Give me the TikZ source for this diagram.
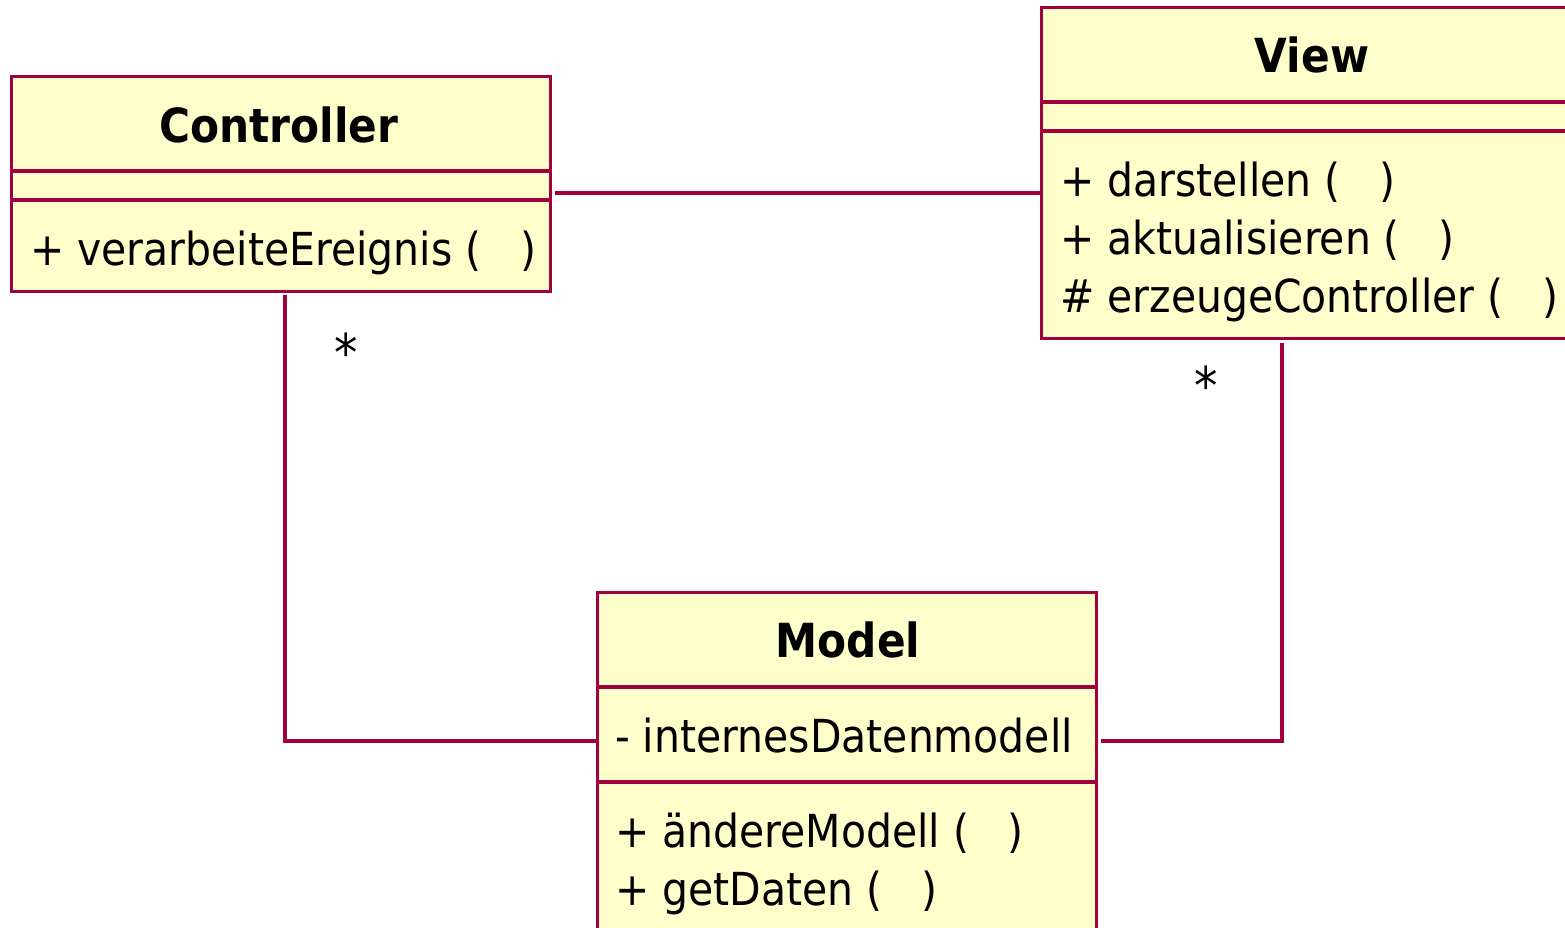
\documentclass[tikz,border=0pt]{standalone}
\usepackage{fontspec}
\setmainfont{DejaVu Sans Condensed}
\begin{document}
\begin{tikzpicture}[x=1pt,y=-1pt,
  umlline/.style={draw=umlred, line width=3.2pt},
  umlbox/.style={umlline, fill=umlfill, inner sep=0pt, anchor=north west, line join=miter},
  title/.style={font=\fontsize{47}{52}\selectfont\bfseries, anchor=base, inner sep=0pt},
  member/.style={font=\fontsize{45.5}{50}\selectfont, anchor=base west, inner sep=0pt},
  mult/.style={font=\fontsize{52}{56}\selectfont, anchor=center, inner sep=0pt}]
\definecolor{umlred}{HTML}{A2003E}
\definecolor{umlfill}{HTML}{FEFECB}
\useasboundingbox (0,0) rectangle (1565,927);
\clip (0,0) rectangle (1565,927);

% Controller class
\node[umlbox, minimum width=539pt, minimum height=215pt] (ctrl) at (10,75) {};
\draw[umlline] (10,171) -- (549,171) (10,200) -- (549,200);
\node[title] (ctrlname) at (279,142) {Controller};
\node[member] (ctrlop) at (30,265) {+ verarbeiteEreignis (\ \ \ )};

% View class
\node[umlbox, minimum width=544pt, minimum height=331pt] (view) at (1040,6) {};
\draw[umlline] (1040,102) -- (1584,102) (1040,131) -- (1584,131);
\node[title] (viewname) at (1312,72) {View};
\node[member] (viewop1) at (1060,196) {+ darstellen (\ \ \ )};
\node[member] (viewop2) at (1060,254) {+ aktualisieren (\ \ \ )};
\node[member] (viewop3) at (1060,312) {\# erzeugeController (\ \ \ )};

% Model class
\node[umlbox, minimum width=499pt, minimum height=380pt] (model) at (596,591) {};
\draw[umlline] (596,687) -- (1095,687) (596,782) -- (1095,782);
\node[title] (modelname) at (848,657) {Model};
\node[member] (modelattr) at (615,752) {- internesDatenmodell};
\node[member] (modelop1) at (615,847) {+ ändereModell (\ \ \ )};
\node[member] (modelop2) at (615,905) {+ getDaten (\ \ \ )};

% Associations
\coordinate (cvstart) at (555,193);
\draw[umlline] (cvstart) -- (cvstart -| view.west);

\coordinate (cmstart) at (285,295);
\coordinate (cmbend) at (285,741);
\draw[umlline] (cmstart) -- (cmbend) -- (cmbend -| model.west);

\coordinate (mvstart) at (1101,741);
\coordinate (mvbend) at (1282,741);
\coordinate (mvend) at (1282,343);
\draw[umlline] (mvstart) -- (mvbend) -- (mvend);

% Multiplicities
\node[mult] (cmult) at (346,352) {*};
\node[mult] (vmult) at (1206,385) {*};
\end{tikzpicture}
\end{document}
